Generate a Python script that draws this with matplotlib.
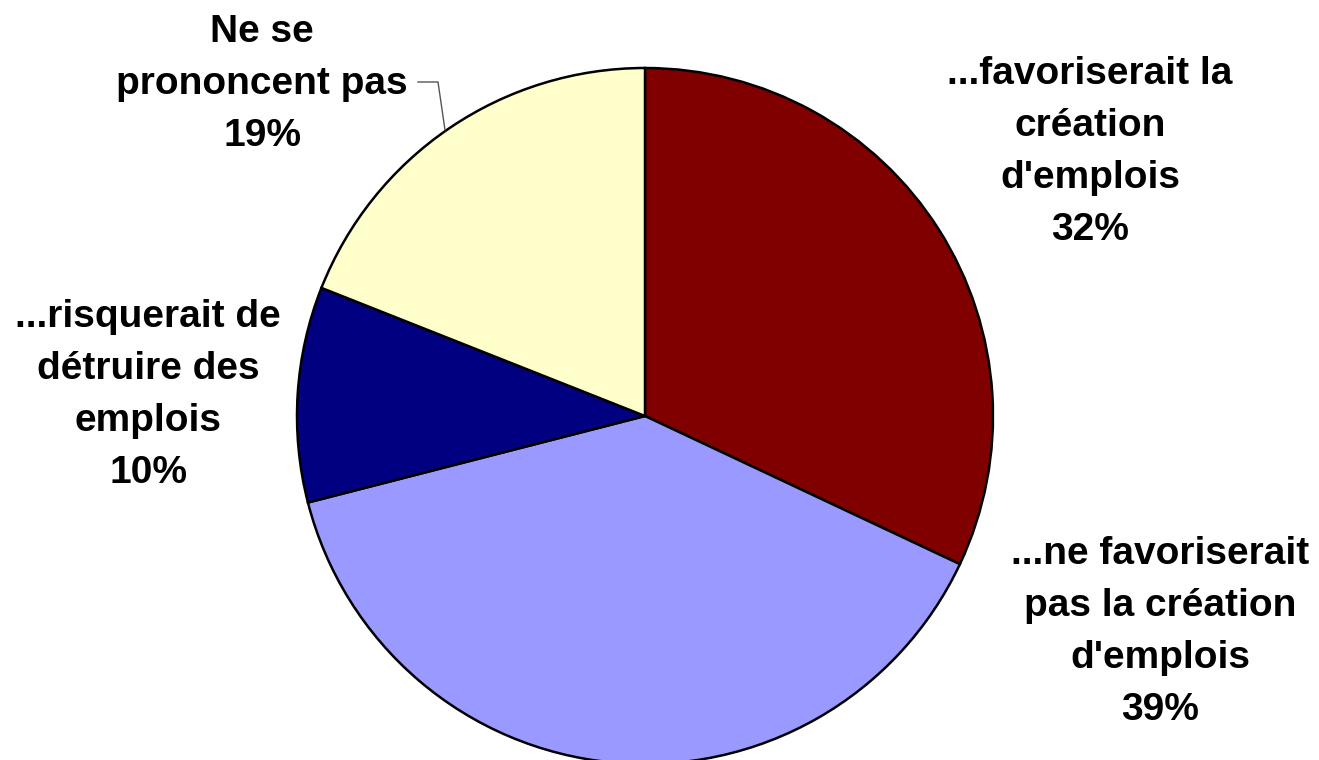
import matplotlib.pyplot as plt

# donnees
etiquettes = ["...favoriserait la\ncréation\nd'emplois",
              "...ne favoriserait\npas la création\nd'emplois",
              "...risquerait de\ndétruire des\nemplois",
              "Ne se\nprononcent pas"]
valeurs = [32, 39, 10, 19]
couleurs = ['#800000', '#9999FF', '#000080', '#FFFFCC']

W, H = 1319, 760
fig = plt.figure(figsize=(W / 100, H / 100), dpi=100)
ax = fig.add_axes([0, 0, 1, 1])

# camembert en coordonnees pixels (y vers le haut)
cx, cy, r = 645, H - 416, 348
ax.pie(valeurs, colors=couleurs, startangle=90, counterclock=False,
       center=(cx, cy), radius=r,
       wedgeprops=dict(edgecolor='black', linewidth=1.8))
ax.set_xlim(0, W)
ax.set_ylim(0, H)
ax.set_aspect('auto')
ax.axis('off')

# position des etiquettes (pixels)
pos = [(1090, 152), (1160, 632), (148, 395), (262, 84)]
for lab, v, (x, y) in zip(etiquettes, valeurs, pos):
    ax.text(x, H - y, f"{lab}\n{v}%", ha='center', va='center',
            family='Liberation Sans', weight='bold', fontsize=28,
            linespacing=1.56)

# trait de rappel pour "Ne se prononcent pas"
ax.plot([418, 438, 445], [H - 82, H - 82, H - 130], color='#555555', lw=1)

fig.savefig('out.png', dpi=100)
